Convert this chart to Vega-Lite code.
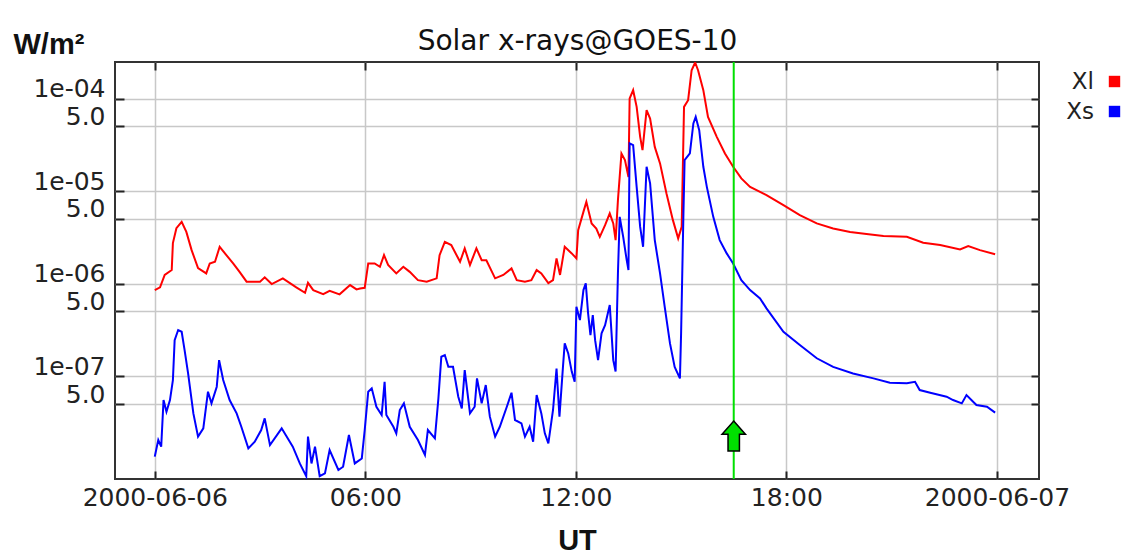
{
  "$schema": "https://vega.github.io/schema/vega-lite/v6.json",
  "width": 924,
  "height": 417,
  "autosize": {"type": "none"},
  "padding": {"left": 115, "top": 62, "right": 87, "bottom": 78},
  "background": "white",
  "config": {"view": {"stroke": "#333", "strokeWidth": 2}},
  "datasets": {
    "flux": [
      {"t":"2000-06-06T00:00Z","s":"Xl","v":8.51e-7},
      {"t":"2000-06-06T00:09Z","s":"Xl","v":9.10e-7},
      {"t":"2000-06-06T00:17Z","s":"Xl","v":1.24e-6},
      {"t":"2000-06-06T00:29Z","s":"Xl","v":1.40e-6},
      {"t":"2000-06-06T00:31Z","s":"Xl","v":2.74e-6},
      {"t":"2000-06-06T00:37Z","s":"Xl","v":3.97e-6},
      {"t":"2000-06-06T00:46Z","s":"Xl","v":4.65e-6},
      {"t":"2000-06-06T00:54Z","s":"Xl","v":3.62e-6},
      {"t":"2000-06-06T01:03Z","s":"Xl","v":2.30e-6},
      {"t":"2000-06-06T01:14Z","s":"Xl","v":1.47e-6},
      {"t":"2000-06-06T01:28Z","s":"Xl","v":1.29e-6},
      {"t":"2000-06-06T01:34Z","s":"Xl","v":1.65e-6},
      {"t":"2000-06-06T01:43Z","s":"Xl","v":1.72e-6},
      {"t":"2000-06-06T01:51Z","s":"Xl","v":2.50e-6},
      {"t":"2000-06-06T02:00Z","s":"Xl","v":2.12e-6},
      {"t":"2000-06-06T02:14Z","s":"Xl","v":1.65e-6},
      {"t":"2000-06-06T02:25Z","s":"Xl","v":1.34e-6},
      {"t":"2000-06-06T02:37Z","s":"Xl","v":1.05e-6},
      {"t":"2000-06-06T03:00Z","s":"Xl","v":1.05e-6},
      {"t":"2000-06-06T03:08Z","s":"Xl","v":1.17e-6},
      {"t":"2000-06-06T03:20Z","s":"Xl","v":9.88e-7},
      {"t":"2000-06-06T03:39Z","s":"Xl","v":1.14e-6},
      {"t":"2000-06-06T04:02Z","s":"Xl","v":9.10e-7},
      {"t":"2000-06-06T04:17Z","s":"Xl","v":7.96e-7},
      {"t":"2000-06-06T04:22Z","s":"Xl","v":1.02e-6},
      {"t":"2000-06-06T04:31Z","s":"Xl","v":8.51e-7},
      {"t":"2000-06-06T04:48Z","s":"Xl","v":7.71e-7},
      {"t":"2000-06-06T04:59Z","s":"Xl","v":8.36e-7},
      {"t":"2000-06-06T05:16Z","s":"Xl","v":7.66e-7},
      {"t":"2000-06-06T05:34Z","s":"Xl","v":9.64e-7},
      {"t":"2000-06-06T05:45Z","s":"Xl","v":8.65e-7},
      {"t":"2000-06-06T05:51Z","s":"Xl","v":8.85e-7},
      {"t":"2000-06-06T05:59Z","s":"Xl","v":9.0e-7},
      {"t":"2000-06-06T06:05Z","s":"Xl","v":1.65e-6},
      {"t":"2000-06-06T06:16Z","s":"Xl","v":1.65e-6},
      {"t":"2000-06-06T06:25Z","s":"Xl","v":1.52e-6},
      {"t":"2000-06-06T06:32Z","s":"Xl","v":2.03e-6},
      {"t":"2000-06-06T06:39Z","s":"Xl","v":1.59e-6},
      {"t":"2000-06-06T06:53Z","s":"Xl","v":1.29e-6},
      {"t":"2000-06-06T07:05Z","s":"Xl","v":1.52e-6},
      {"t":"2000-06-06T07:16Z","s":"Xl","v":1.34e-6},
      {"t":"2000-06-06T07:30Z","s":"Xl","v":1.09e-6},
      {"t":"2000-06-06T07:45Z","s":"Xl","v":1.05e-6},
      {"t":"2000-06-06T08:02Z","s":"Xl","v":1.14e-6},
      {"t":"2000-06-06T08:07Z","s":"Xl","v":2.03e-6},
      {"t":"2000-06-06T08:16Z","s":"Xl","v":2.83e-6},
      {"t":"2000-06-06T08:27Z","s":"Xl","v":2.61e-6},
      {"t":"2000-06-06T08:42Z","s":"Xl","v":1.72e-6},
      {"t":"2000-06-06T08:50Z","s":"Xl","v":2.40e-6},
      {"t":"2000-06-06T08:59Z","s":"Xl","v":1.59e-6},
      {"t":"2000-06-06T09:10Z","s":"Xl","v":2.40e-6},
      {"t":"2000-06-06T09:19Z","s":"Xl","v":1.79e-6},
      {"t":"2000-06-06T09:27Z","s":"Xl","v":1.79e-6},
      {"t":"2000-06-06T09:42Z","s":"Xl","v":1.14e-6},
      {"t":"2000-06-06T09:56Z","s":"Xl","v":1.24e-6},
      {"t":"2000-06-06T10:10Z","s":"Xl","v":1.46e-6},
      {"t":"2000-06-06T10:19Z","s":"Xl","v":1.09e-6},
      {"t":"2000-06-06T10:33Z","s":"Xl","v":1.05e-6},
      {"t":"2000-06-06T10:44Z","s":"Xl","v":1.09e-6},
      {"t":"2000-06-06T10:53Z","s":"Xl","v":1.40e-6},
      {"t":"2000-06-06T11:01Z","s":"Xl","v":1.29e-6},
      {"t":"2000-06-06T11:13Z","s":"Xl","v":1.01e-6},
      {"t":"2000-06-06T11:21Z","s":"Xl","v":1.09e-6},
      {"t":"2000-06-06T11:27Z","s":"Xl","v":1.87e-6},
      {"t":"2000-06-06T11:33Z","s":"Xl","v":1.24e-6},
      {"t":"2000-06-06T11:41Z","s":"Xl","v":2.50e-6},
      {"t":"2000-06-06T11:53Z","s":"Xl","v":2.12e-6},
      {"t":"2000-06-06T12:01Z","s":"Xl","v":1.87e-6},
      {"t":"2000-06-06T12:04Z","s":"Xl","v":3.78e-6},
      {"t":"2000-06-06T12:13Z","s":"Xl","v":5.96e-6},
      {"t":"2000-06-06T12:18Z","s":"Xl","v":7.64e-6},
      {"t":"2000-06-06T12:27Z","s":"Xl","v":4.47e-6},
      {"t":"2000-06-06T12:35Z","s":"Xl","v":3.94e-6},
      {"t":"2000-06-06T12:41Z","s":"Xl","v":3.20e-6},
      {"t":"2000-06-06T12:50Z","s":"Xl","v":4.28e-6},
      {"t":"2000-06-06T12:58Z","s":"Xl","v":5.73e-6},
      {"t":"2000-06-06T13:04Z","s":"Xl","v":4.47e-6},
      {"t":"2000-06-06T13:08Z","s":"Xl","v":2.95e-6},
      {"t":"2000-06-06T13:12Z","s":"Xl","v":7.98e-6},
      {"t":"2000-06-06T13:18Z","s":"Xl","v":2.55e-5},
      {"t":"2000-06-06T13:24Z","s":"Xl","v":2.16e-5},
      {"t":"2000-06-06T13:30Z","s":"Xl","v":1.42e-5},
      {"t":"2000-06-06T13:32Z","s":"Xl","v":1.00e-4},
      {"t":"2000-06-06T13:38Z","s":"Xl","v":1.23e-4},
      {"t":"2000-06-06T13:44Z","s":"Xl","v":8.12e-5},
      {"t":"2000-06-06T13:50Z","s":"Xl","v":3.85e-5},
      {"t":"2000-06-06T13:54Z","s":"Xl","v":2.77e-5},
      {"t":"2000-06-06T14:01Z","s":"Xl","v":7.48e-5},
      {"t":"2000-06-06T14:07Z","s":"Xl","v":6.08e-5},
      {"t":"2000-06-06T14:15Z","s":"Xl","v":3.00e-5},
      {"t":"2000-06-06T14:24Z","s":"Xl","v":1.99e-5},
      {"t":"2000-06-06T14:35Z","s":"Xl","v":9.42e-6},
      {"t":"2000-06-06T14:46Z","s":"Xl","v":4.85e-6},
      {"t":"2000-06-06T14:55Z","s":"Xl","v":3.08e-6},
      {"t":"2000-06-06T15:01Z","s":"Xl","v":4.10e-6},
      {"t":"2000-06-06T15:05Z","s":"Xl","v":8.12e-5},
      {"t":"2000-06-06T15:12Z","s":"Xl","v":9.59e-5},
      {"t":"2000-06-06T15:18Z","s":"Xl","v":2.02e-4},
      {"t":"2000-06-06T15:24Z","s":"Xl","v":2.45e-4},
      {"t":"2000-06-06T15:29Z","s":"Xl","v":2.02e-4},
      {"t":"2000-06-06T15:38Z","s":"Xl","v":1.23e-4},
      {"t":"2000-06-06T15:46Z","s":"Xl","v":6.33e-5},
      {"t":"2000-06-06T16:01Z","s":"Xl","v":3.85e-5},
      {"t":"2000-06-06T16:15Z","s":"Xl","v":2.55e-5},
      {"t":"2000-06-06T16:29Z","s":"Xl","v":1.83e-5},
      {"t":"2000-06-06T16:43Z","s":"Xl","v":1.37e-5},
      {"t":"2000-06-06T16:58Z","s":"Xl","v":1.11e-5},
      {"t":"2000-06-06T17:15Z","s":"Xl","v":9.80e-6},
      {"t":"2000-06-06T17:26Z","s":"Xl","v":9.03e-6},
      {"t":"2000-06-06T17:55Z","s":"Xl","v":7.05e-6},
      {"t":"2000-06-06T18:23Z","s":"Xl","v":5.49e-6},
      {"t":"2000-06-06T18:52Z","s":"Xl","v":4.47e-6},
      {"t":"2000-06-06T19:20Z","s":"Xl","v":3.94e-6},
      {"t":"2000-06-06T19:49Z","s":"Xl","v":3.62e-6},
      {"t":"2000-06-06T20:17Z","s":"Xl","v":3.43e-6},
      {"t":"2000-06-06T20:46Z","s":"Xl","v":3.26e-6},
      {"t":"2000-06-06T21:26Z","s":"Xl","v":3.20e-6},
      {"t":"2000-06-06T21:54Z","s":"Xl","v":2.76e-6},
      {"t":"2000-06-06T22:23Z","s":"Xl","v":2.61e-6},
      {"t":"2000-06-06T22:57Z","s":"Xl","v":2.34e-6},
      {"t":"2000-06-06T23:11Z","s":"Xl","v":2.54e-6},
      {"t":"2000-06-06T23:31Z","s":"Xl","v":2.30e-6},
      {"t":"2000-06-06T23:57Z","s":"Xl","v":2.08e-6},
      {"t":"2000-06-06T00:00Z","s":"Xs","v":1.35e-8},
      {"t":"2000-06-06T00:06Z","s":"Xs","v":2.04e-8},
      {"t":"2000-06-06T00:11Z","s":"Xs","v":1.73e-8},
      {"t":"2000-06-06T00:15Z","s":"Xs","v":5.52e-8},
      {"t":"2000-06-06T00:20Z","s":"Xs","v":4.13e-8},
      {"t":"2000-06-06T00:26Z","s":"Xs","v":5.52e-8},
      {"t":"2000-06-06T00:31Z","s":"Xs","v":9.08e-8},
      {"t":"2000-06-06T00:34Z","s":"Xs","v":2.45e-7},
      {"t":"2000-06-06T00:40Z","s":"Xs","v":3.15e-7},
      {"t":"2000-06-06T00:46Z","s":"Xs","v":3.02e-7},
      {"t":"2000-06-06T00:51Z","s":"Xs","v":1.91e-7},
      {"t":"2000-06-06T00:57Z","s":"Xs","v":1.07e-7},
      {"t":"2000-06-06T01:06Z","s":"Xs","v":3.96e-8},
      {"t":"2000-06-06T01:14Z","s":"Xs","v":2.22e-8},
      {"t":"2000-06-06T01:23Z","s":"Xs","v":2.73e-8},
      {"t":"2000-06-06T01:31Z","s":"Xs","v":6.79e-8},
      {"t":"2000-06-06T01:37Z","s":"Xs","v":5.08e-8},
      {"t":"2000-06-06T01:46Z","s":"Xs","v":7.69e-8},
      {"t":"2000-06-06T01:50Z","s":"Xs","v":1.49e-7},
      {"t":"2000-06-06T01:57Z","s":"Xs","v":9.08e-8},
      {"t":"2000-06-06T02:08Z","s":"Xs","v":5.52e-8},
      {"t":"2000-06-06T02:20Z","s":"Xs","v":3.96e-8},
      {"t":"2000-06-06T02:28Z","s":"Xs","v":2.84e-8},
      {"t":"2000-06-06T02:40Z","s":"Xs","v":1.66e-8},
      {"t":"2000-06-06T02:51Z","s":"Xs","v":1.96e-8},
      {"t":"2000-06-06T03:02Z","s":"Xs","v":2.62e-8},
      {"t":"2000-06-06T03:08Z","s":"Xs","v":3.50e-8},
      {"t":"2000-06-06T03:17Z","s":"Xs","v":1.80e-8},
      {"t":"2000-06-06T03:37Z","s":"Xs","v":2.73e-8},
      {"t":"2000-06-06T03:56Z","s":"Xs","v":1.73e-8},
      {"t":"2000-06-06T04:08Z","s":"Xs","v":1.14e-8},
      {"t":"2000-06-06T04:19Z","s":"Xs","v":8.3e-9},
      {"t":"2000-06-06T04:22Z","s":"Xs","v":2.22e-8},
      {"t":"2000-06-06T04:28Z","s":"Xs","v":1.14e-8},
      {"t":"2000-06-06T04:34Z","s":"Xs","v":1.73e-8},
      {"t":"2000-06-06T04:42Z","s":"Xs","v":8.3e-9},
      {"t":"2000-06-06T04:51Z","s":"Xs","v":8.91e-9},
      {"t":"2000-06-06T04:59Z","s":"Xs","v":1.59e-8},
      {"t":"2000-06-06T05:14Z","s":"Xs","v":9.68e-9},
      {"t":"2000-06-06T05:22Z","s":"Xs","v":1.05e-8},
      {"t":"2000-06-06T05:32Z","s":"Xs","v":2.31e-8},
      {"t":"2000-06-06T05:42Z","s":"Xs","v":1.14e-8},
      {"t":"2000-06-06T05:54Z","s":"Xs","v":1.29e-8},
      {"t":"2000-06-06T05:59Z","s":"Xs","v":2.62e-8},
      {"t":"2000-06-06T06:05Z","s":"Xs","v":6.79e-8},
      {"t":"2000-06-06T06:11Z","s":"Xs","v":7.38e-8},
      {"t":"2000-06-06T06:19Z","s":"Xs","v":4.67e-8},
      {"t":"2000-06-06T06:28Z","s":"Xs","v":3.80e-8},
      {"t":"2000-06-06T06:33Z","s":"Xs","v":8.70e-8},
      {"t":"2000-06-06T06:36Z","s":"Xs","v":3.80e-8},
      {"t":"2000-06-06T06:48Z","s":"Xs","v":2.84e-8},
      {"t":"2000-06-06T06:53Z","s":"Xs","v":2.41e-8},
      {"t":"2000-06-06T06:59Z","s":"Xs","v":4.31e-8},
      {"t":"2000-06-06T07:06Z","s":"Xs","v":5.08e-8},
      {"t":"2000-06-06T07:16Z","s":"Xs","v":2.84e-8},
      {"t":"2000-06-06T07:30Z","s":"Xs","v":2.04e-8},
      {"t":"2000-06-06T07:42Z","s":"Xs","v":1.41e-8},
      {"t":"2000-06-06T07:47Z","s":"Xs","v":2.62e-8},
      {"t":"2000-06-06T07:59Z","s":"Xs","v":2.13e-8},
      {"t":"2000-06-06T08:05Z","s":"Xs","v":5.75e-8},
      {"t":"2000-06-06T08:10Z","s":"Xs","v":1.62e-7},
      {"t":"2000-06-06T08:16Z","s":"Xs","v":1.69e-7},
      {"t":"2000-06-06T08:22Z","s":"Xs","v":1.26e-7},
      {"t":"2000-06-06T08:30Z","s":"Xs","v":1.26e-7},
      {"t":"2000-06-06T08:39Z","s":"Xs","v":6.0e-8},
      {"t":"2000-06-06T08:45Z","s":"Xs","v":4.49e-8},
      {"t":"2000-06-06T08:50Z","s":"Xs","v":1.16e-7},
      {"t":"2000-06-06T08:59Z","s":"Xs","v":3.96e-8},
      {"t":"2000-06-06T09:07Z","s":"Xs","v":4.67e-8},
      {"t":"2000-06-06T09:11Z","s":"Xs","v":9.46e-8},
      {"t":"2000-06-06T09:19Z","s":"Xs","v":5.08e-8},
      {"t":"2000-06-06T09:26Z","s":"Xs","v":8.02e-8},
      {"t":"2000-06-06T09:33Z","s":"Xs","v":3.65e-8},
      {"t":"2000-06-06T09:42Z","s":"Xs","v":2.22e-8},
      {"t":"2000-06-06T09:50Z","s":"Xs","v":2.84e-8},
      {"t":"2000-06-06T10:02Z","s":"Xs","v":4.67e-8},
      {"t":"2000-06-06T10:10Z","s":"Xs","v":6.62e-8},
      {"t":"2000-06-06T10:16Z","s":"Xs","v":3.36e-8},
      {"t":"2000-06-06T10:27Z","s":"Xs","v":3.09e-8},
      {"t":"2000-06-06T10:33Z","s":"Xs","v":2.22e-8},
      {"t":"2000-06-06T10:41Z","s":"Xs","v":2.84e-8},
      {"t":"2000-06-06T10:47Z","s":"Xs","v":1.96e-8},
      {"t":"2000-06-06T10:53Z","s":"Xs","v":6.25e-8},
      {"t":"2000-06-06T11:01Z","s":"Xs","v":3.96e-8},
      {"t":"2000-06-06T11:07Z","s":"Xs","v":2.41e-8},
      {"t":"2000-06-06T11:13Z","s":"Xs","v":1.88e-8},
      {"t":"2000-06-06T11:21Z","s":"Xs","v":4.31e-8},
      {"t":"2000-06-06T11:27Z","s":"Xs","v":1.21e-7},
      {"t":"2000-06-06T11:32Z","s":"Xs","v":3.65e-8},
      {"t":"2000-06-06T11:38Z","s":"Xs","v":1.26e-7},
      {"t":"2000-06-06T11:41Z","s":"Xs","v":2.26e-7},
      {"t":"2000-06-06T11:47Z","s":"Xs","v":1.76e-7},
      {"t":"2000-06-06T11:53Z","s":"Xs","v":1.12e-7},
      {"t":"2000-06-06T11:58Z","s":"Xs","v":8.70e-8},
      {"t":"2000-06-06T12:01Z","s":"Xs","v":5.61e-7},
      {"t":"2000-06-06T12:07Z","s":"Xs","v":4.04e-7},
      {"t":"2000-06-06T12:13Z","s":"Xs","v":8.51e-7},
      {"t":"2000-06-06T12:17Z","s":"Xs","v":1.01e-6},
      {"t":"2000-06-06T12:21Z","s":"Xs","v":4.77e-7},
      {"t":"2000-06-06T12:25Z","s":"Xs","v":2.78e-7},
      {"t":"2000-06-06T12:29Z","s":"Xs","v":4.57e-7},
      {"t":"2000-06-06T12:33Z","s":"Xs","v":2.45e-7},
      {"t":"2000-06-06T12:38Z","s":"Xs","v":1.49e-7},
      {"t":"2000-06-06T12:44Z","s":"Xs","v":2.90e-7},
      {"t":"2000-06-06T12:50Z","s":"Xs","v":3.56e-7},
      {"t":"2000-06-06T12:58Z","s":"Xs","v":5.86e-7},
      {"t":"2000-06-06T13:04Z","s":"Xs","v":1.49e-7},
      {"t":"2000-06-06T13:08Z","s":"Xs","v":1.12e-7},
      {"t":"2000-06-06T13:12Z","s":"Xs","v":1.29e-6},
      {"t":"2000-06-06T13:15Z","s":"Xs","v":5.26e-6},
      {"t":"2000-06-06T13:21Z","s":"Xs","v":3.20e-6},
      {"t":"2000-06-06T13:27Z","s":"Xs","v":1.79e-6},
      {"t":"2000-06-06T13:30Z","s":"Xs","v":1.40e-6},
      {"t":"2000-06-06T13:32Z","s":"Xs","v":3.27e-5},
      {"t":"2000-06-06T13:38Z","s":"Xs","v":3.13e-5},
      {"t":"2000-06-06T13:44Z","s":"Xs","v":1.11e-5},
      {"t":"2000-06-06T13:50Z","s":"Xs","v":4.10e-6},
      {"t":"2000-06-06T13:55Z","s":"Xs","v":2.50e-6},
      {"t":"2000-06-06T14:01Z","s":"Xs","v":1.83e-5},
      {"t":"2000-06-06T14:07Z","s":"Xs","v":1.21e-5},
      {"t":"2000-06-06T14:15Z","s":"Xs","v":2.95e-6},
      {"t":"2000-06-06T14:24Z","s":"Xs","v":1.29e-6},
      {"t":"2000-06-06T14:32Z","s":"Xs","v":5.61e-7},
      {"t":"2000-06-06T14:41Z","s":"Xs","v":2.26e-7},
      {"t":"2000-06-06T14:49Z","s":"Xs","v":1.26e-7},
      {"t":"2000-06-06T14:58Z","s":"Xs","v":9.46e-8},
      {"t":"2000-06-06T15:00Z","s":"Xs","v":2.90e-7},
      {"t":"2000-06-06T15:04Z","s":"Xs","v":5.73e-6},
      {"t":"2000-06-06T15:06Z","s":"Xs","v":2.16e-5},
      {"t":"2000-06-06T15:15Z","s":"Xs","v":2.55e-5},
      {"t":"2000-06-06T15:21Z","s":"Xs","v":5.37e-5},
      {"t":"2000-06-06T15:25Z","s":"Xs","v":6.33e-5},
      {"t":"2000-06-06T15:31Z","s":"Xs","v":4.55e-5},
      {"t":"2000-06-06T15:38Z","s":"Xs","v":1.83e-5},
      {"t":"2000-06-06T15:44Z","s":"Xs","v":1.11e-5},
      {"t":"2000-06-06T15:55Z","s":"Xs","v":5.26e-6},
      {"t":"2000-06-06T16:06Z","s":"Xs","v":2.95e-6},
      {"t":"2000-06-06T16:18Z","s":"Xs","v":2.12e-6},
      {"t":"2000-06-06T16:29Z","s":"Xs","v":1.65e-6},
      {"t":"2000-06-06T16:43Z","s":"Xs","v":1.09e-6},
      {"t":"2000-06-06T16:58Z","s":"Xs","v":8.51e-7},
      {"t":"2000-06-06T17:15Z","s":"Xs","v":6.92e-7},
      {"t":"2000-06-06T17:26Z","s":"Xs","v":5.40e-7},
      {"t":"2000-06-06T17:55Z","s":"Xs","v":3.02e-7},
      {"t":"2000-06-06T18:23Z","s":"Xs","v":2.17e-7},
      {"t":"2000-06-06T18:52Z","s":"Xs","v":1.56e-7},
      {"t":"2000-06-06T19:20Z","s":"Xs","v":1.26e-7},
      {"t":"2000-06-06T19:54Z","s":"Xs","v":1.07e-7},
      {"t":"2000-06-06T20:29Z","s":"Xs","v":9.46e-8},
      {"t":"2000-06-06T20:57Z","s":"Xs","v":8.49e-8},
      {"t":"2000-06-06T21:26Z","s":"Xs","v":8.36e-8},
      {"t":"2000-06-06T21:40Z","s":"Xs","v":8.70e-8},
      {"t":"2000-06-06T21:48Z","s":"Xs","v":7.08e-8},
      {"t":"2000-06-06T22:06Z","s":"Xs","v":6.62e-8},
      {"t":"2000-06-06T22:34Z","s":"Xs","v":6.0e-8},
      {"t":"2000-06-06T22:45Z","s":"Xs","v":5.52e-8},
      {"t":"2000-06-06T23:00Z","s":"Xs","v":5.08e-8},
      {"t":"2000-06-06T23:08Z","s":"Xs","v":6.25e-8},
      {"t":"2000-06-06T23:25Z","s":"Xs","v":4.88e-8},
      {"t":"2000-06-06T23:43Z","s":"Xs","v":4.67e-8},
      {"t":"2000-06-06T23:57Z","s":"Xs","v":4.03e-8}
    ]
  },
  "layer": [
    {
      "data": {"name": "flux"},
      "mark": {"type": "line", "strokeWidth": 2, "clip": true},
      "encoding": {
        "x": {
          "field": "t", "type": "temporal",
          "scale": {"type": "utc", "domain": [{"year": 2000, "month": 6, "date": 5, "hours": 22, "minutes": 52, "utc": true}, {"year": 2000, "month": 6, "date": 7, "hours": 1, "minutes": 12, "utc": true}]},
          "axis": {
            "values": [
              {"year": 2000, "month": 6, "date": 6, "hours": 0, "utc": true},
              {"year": 2000, "month": 6, "date": 6, "hours": 6, "utc": true},
              {"year": 2000, "month": 6, "date": 6, "hours": 12, "utc": true},
              {"year": 2000, "month": 6, "date": 6, "hours": 18, "utc": true},
              {"year": 2000, "month": 6, "date": 7, "hours": 0, "utc": true}
            ],
            "labelExpr": "utcFormat(datum.value, '%H:%M') == '00:00' ? utcFormat(datum.value, '%Y-%m-%d') : utcFormat(datum.value, '%H:%M')",
            "grid": true, "gridColor": "#c8c8c8", "gridWidth": 1.5,
            "domain": false,
            "tickSize": -8, "tickWidth": 2, "tickColor": "#222",
            "labelFont": "DejaVu Sans", "labelFontSize": 25, "labelColor": "#222",
            "labelPadding": 14, "labelBaseline": "top", "labelFlush": false, "labelOverlap": false, "labelBound": false,
            "title": "UT", "titleFont": "Liberation Sans", "titleFontWeight": "bold", "titleFontSize": 29, "titleColor": "#111",
            "titleBaseline": "alphabetic", "titleY": 70
          }
        },
        "y": {
          "field": "v", "type": "quantitative",
          "scale": {"type": "log", "domain": [7.74e-9, 2.48e-4], "nice": false},
          "axis": {
            "values": [5e-8, 1e-7, 5e-7, 1e-6, 5e-6, 1e-5, 5e-5, 1e-4],
            "labelExpr": "(datum.value * pow(10, -round(log(datum.value)/LN10))) < 0.8 ? '5.0' : '1e-0' + (-round(log(datum.value)/LN10))",
            "grid": true, "gridColor": "#c8c8c8", "gridWidth": 1.5,
            "domain": false,
            "tickSize": -9, "tickWidth": 2, "tickColor": "#222",
            "labelFont": "DejaVu Sans", "labelFontSize": 25, "labelColor": "#222",
            "labelPadding": 19, "labelBaseline": "alphabetic", "labelOffset": -2, "labelOverlap": false, "labelBound": false,
            "title": "W/m²", "titleFont": "Liberation Sans", "titleFontWeight": "bold", "titleFontSize": 29, "titleColor": "#111",
            "titleAngle": 0, "titleAlign": "left", "titleBaseline": "alphabetic", "titleX": -102, "titleY": -9
          }
        },
        "color": {
          "field": "s", "type": "nominal",
          "scale": {"domain": ["Xl", "Xs"], "range": ["#ff0000", "#0000ff"]},
          "legend": {
            "orient": "none", "legendX": 988, "legendY": 8, "title": null,
            "symbolType": "square", "symbolSize": 130, "symbolStrokeWidth": 0,
            "labelAlign": "right", "labelOffset": -32,
            "labelFont": "DejaVu Sans", "labelFontSize": 23, "labelColor": "#222",
            "rowPadding": 6,
            "encode": {"symbols": {"update": {"fill": {"scale": "color", "field": "value"}, "fillOpacity": {"value": 1}}}}
          }
        }
      }
    },
    {
      "data": {"values": [{"t": "2000-06-06T16:30Z"}]},
      "mark": {"type": "rule", "color": "#00e000", "strokeWidth": 2},
      "encoding": {
        "x": {
          "field": "t", "type": "temporal",
          "axis": {
            "orient": "top",
            "values": [
              {"year": 2000, "month": 6, "date": 6, "hours": 0, "utc": true},
              {"year": 2000, "month": 6, "date": 6, "hours": 6, "utc": true},
              {"year": 2000, "month": 6, "date": 6, "hours": 12, "utc": true},
              {"year": 2000, "month": 6, "date": 6, "hours": 18, "utc": true},
              {"year": 2000, "month": 6, "date": 7, "hours": 0, "utc": true}
            ],
            "labels": false, "grid": false, "domain": false,
            "tickSize": -8, "tickWidth": 2, "tickColor": "#222",
            "title": "Solar x-rays@GOES-10", "titleFont": "DejaVu Sans", "titleFontSize": 28, "titleFontWeight": "normal", "titleColor": "#111",
            "titleAnchor": "middle", "titleAlign": "center", "titleBaseline": "alphabetic", "titleX": 462, "titleY": -13
          }
        }
      }
    },
    {
      "data": {"values": [{"t": "2000-06-06T16:30Z", "v": 2.25e-8}]},
      "mark": {"type": "point", "shape": "M0,-1 L0.78,-0.12 L0.38,-0.12 L0.38,1 L-0.38,1 L-0.38,-0.12 L-0.78,-0.12 Z", "size": 900, "filled": true, "fill": "#00e000", "stroke": "#000", "strokeWidth": 1.5, "opacity": 1},
      "encoding": {
        "x": {"field": "t", "type": "temporal", "axis": null},
        "y": {
          "field": "v", "type": "quantitative",
          "axis": {
            "orient": "right",
            "values": [5e-8, 1e-7, 5e-7, 1e-6, 5e-6, 1e-5, 5e-5, 1e-4],
            "labels": false, "grid": false, "domain": false,
            "tickSize": -8, "tickWidth": 2, "tickColor": "#222", "title": null
          }
        }
      }
    }
  ],
  "resolve": {"axis": {"x": "independent", "y": "independent"}}
}
